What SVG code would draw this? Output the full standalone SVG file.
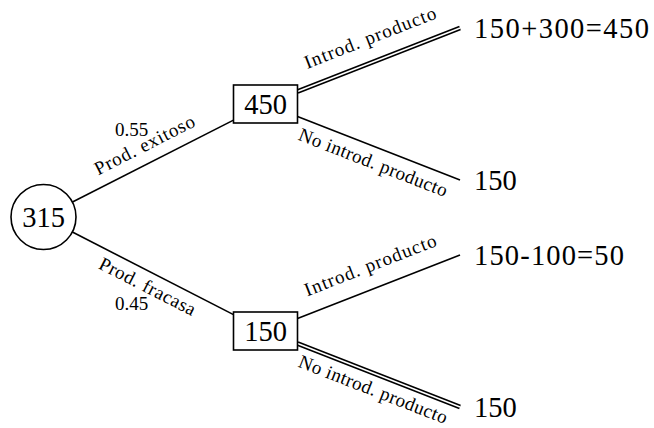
<svg xmlns="http://www.w3.org/2000/svg" width="654" height="428" viewBox="0 0 654 428">
  <style>
    .edge { fill: none; stroke: #000; stroke-width: 1.6; }
    .dbl-out { fill: none; stroke: #000; stroke-width: 4.8; }
    .dbl-in { fill: none; stroke: #fff; stroke-width: 1.6; }
    .shape { fill: #fff; stroke: #000; stroke-width: 1.6; }
    .val { font-family: "Liberation Serif", "Times New Roman", serif; font-size: 28.5px; fill: #000; }
    .lbl { font-family: "Liberation Serif", "Times New Roman", serif; font-size: 19px; fill: #000; }
  </style>

  <!-- branches of the decision tree -->
  <g id="connectors">
    <!-- chance node to decision nodes -->
    <line class="edge" x1="72" y1="202.3" x2="233.5" y2="120.1"/>
    <line class="edge" x1="71.9" y1="231.8" x2="233.5" y2="314.6"/>
    <!-- decision 450: introduce (chosen, double line) / do not introduce -->
    <line class="dbl-out" x1="297.5" y1="91.5" x2="460" y2="28"/>
    <line class="dbl-in" x1="297.5" y1="91.5" x2="460" y2="28"/>
    <line class="edge" x1="297.5" y1="116.5" x2="460" y2="180"/>
    <!-- decision 150: introduce / do not introduce (chosen, double line) -->
    <line class="edge" x1="297.5" y1="318.5" x2="460" y2="255"/>
    <line class="dbl-out" x1="297.5" y1="343.5" x2="460" y2="407"/>
    <line class="dbl-in" x1="297.5" y1="343.5" x2="460" y2="407"/>

    <!-- branch labels -->
    <text class="lbl" transform="translate(152.8,161.2) rotate(-26.92)" x="0" y="-12" text-anchor="middle" textLength="110" lengthAdjust="spacing">Prod. exitoso</text>
    <text class="lbl" x="131.5" y="136" text-anchor="middle">0.55</text>
    <text class="lbl" transform="translate(154,273.8) rotate(27.13)" x="0" y="20.5" text-anchor="middle" textLength="106" lengthAdjust="spacing">Prod. fracasa</text>
    <text class="lbl" x="131.5" y="310" text-anchor="middle">0.45</text>

    <text class="lbl" transform="translate(378.75,59.75) rotate(-21.34)" x="0" y="-17.5" text-anchor="middle" textLength="140" lengthAdjust="spacing">Introd. producto</text>
    <text class="lbl" transform="translate(378.75,148.25) rotate(21.34)" x="0" y="21.5" text-anchor="middle" textLength="158" lengthAdjust="spacing">No introd. producto</text>
    <text class="lbl" transform="translate(378.75,286.75) rotate(-21.34)" x="0" y="-17" text-anchor="middle" textLength="140" lengthAdjust="spacing">Introd. producto</text>
    <text class="lbl" transform="translate(378.75,375.25) rotate(21.34)" x="0" y="21.5" text-anchor="middle" textLength="158" lengthAdjust="spacing">No introd. producto</text>
  </g>

  <!-- chance node -->
  <g id="chance">
    <circle class="shape" cx="43.5" cy="217" r="32.5"/>
    <text class="val" x="43.5" y="226.5" text-anchor="middle">315</text>
  </g>

  <!-- decision nodes -->
  <g id="decision-exito">
    <rect class="shape" x="233.5" y="85" width="64" height="38"/>
    <text class="val" x="265.5" y="113.5" text-anchor="middle">450</text>
  </g>
  <g id="decision-fracaso">
    <rect class="shape" x="233.5" y="312" width="64" height="38"/>
    <text class="val" x="265.5" y="340.5" text-anchor="middle">150</text>
  </g>

  <!-- terminal payoffs -->
  <g id="payoff-1">
    <text class="val" x="474" y="37.5" textLength="175" lengthAdjust="spacing">150+300=450</text>
  </g>
  <g id="payoff-2">
    <text class="val" x="474" y="189.5">150</text>
  </g>
  <g id="payoff-3">
    <text class="val" x="474" y="264.5" textLength="150" lengthAdjust="spacing">150-100=50</text>
  </g>
  <g id="payoff-4">
    <text class="val" x="474" y="416.5">150</text>
  </g>
</svg>
